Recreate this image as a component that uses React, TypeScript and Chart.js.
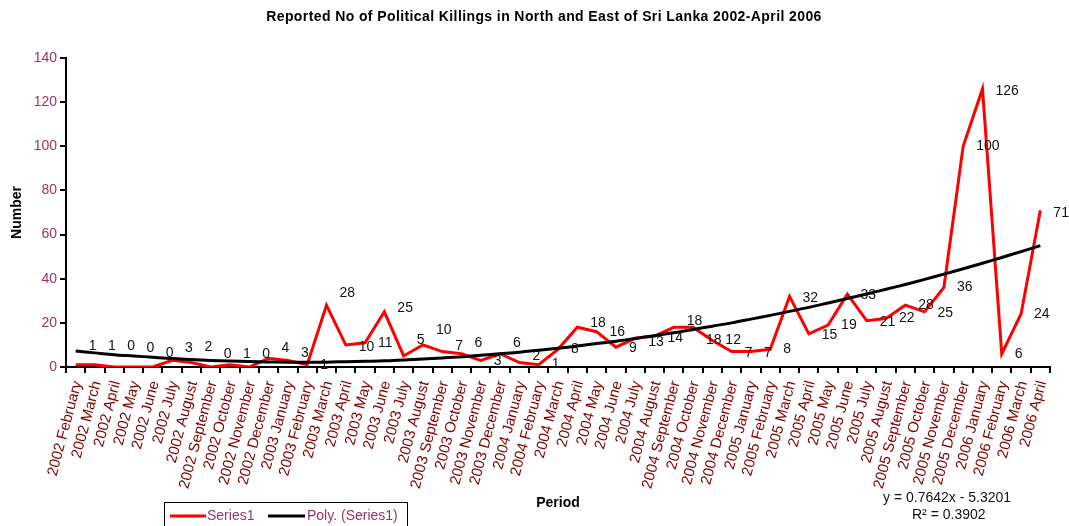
import React, { useEffect, useRef } from 'react';
import { Chart, registerables } from 'chart.js';

Chart.register(...registerables);

const categories = [
  '2002 February', '2002 March', '2002 April', '2002 May', '2002 June', '2002 July',
  '2002 August', '2002 September', '2002 October', '2002 November', '2002 December',
  '2003 January', '2003 February', '2003 March', '2003 April', '2003 May', '2003 June',
  '2003 July', '2003 August', '2003 September', '2003 October', '2003 November', '2003 December',
  '2004 January', '2004 February', '2004 March', '2004 April', '2004 May', '2004 June',
  '2004 July', '2004 August', '2004 September', '2004 October', '2004 November', '2004 December',
  '2005 January', '2005 February', '2005 March', '2005 April', '2005 May', '2005 June',
  '2005 July', '2005 August', '2005 September', '2005 October', '2005 November', '2005 December',
  '2006 January', '2006 February', '2006 March', '2006 April',
];

const killings = [
  1, 1, 0, 0, 0, 3, 2, 0, 1, 0,
  4, 3, 1, 28, 10, 11, 25, 5, 10, 7,
  6, 3, 6, 2, 1, 8, 18, 16, 9, 13,
  14, 18, 18, 12, 7, 7, 8, 32, 15, 19,
  33, 21, 22, 28, 25, 36, 100, 126, 6, 24,
  71,
];

// Poly. (Series1) trendline values
const trendValues = [
  7.2, 6.4, 5.6, 5.0, 4.4, 3.8, 3.4, 3.0, 2.7, 2.5,
  2.3, 2.2, 2.2, 2.2, 2.4, 2.6, 2.8, 3.2, 3.6, 4.1,
  4.6, 5.3, 6.0, 6.7, 7.6, 8.5, 9.5, 10.6, 11.7, 12.9,
  14.2, 15.5, 17.0, 18.5, 20.0, 21.7, 23.4, 25.2, 27.0, 29.0,
  31.0, 33.1, 35.2, 37.4, 39.7, 42.1, 44.5, 47.0, 49.6, 52.3,
  55.0,
];

const yMin = 0;
const yMax = 140;
const yStep = 20;

const chartTitle = 'Reported No of Political Killings in North and East of Sri Lanka 2002-April 2006';
const yTitle = 'Number';
const xTitle = 'Period';
const seriesName = 'Series1';
const trendName = 'Poly. (Series1)';
const equationLines = ['y = 0.7642x - 5.3201', 'R² = 0.3902'];

// vertical nudges (px) of the data labels, as placed in the original
const labelNudge = [
  -19, -19, -21, -19, -14, -12, -15, -13, -11, -13,
  -10, -7, 0, -12, 2, 0, -4, -16, -15, -5,
  -11, 1, -11, -6, -1, 0, -4, 0, 1, 4,
  2, -6, 13, 0, 2, 2, 0, 2, 1, 0,
  1, 1, 0, 0, 1, 0, 0, 2, 0, 0,
  3,
];

const FONT = 'Arial, "Liberation Sans", sans-serif';
const W = 1069;
const H = 526;

const overlayPlugin = {
  id: 'overlay',
  afterDatasetsDraw(chart: any) {
    const ctx = chart.ctx;
    const meta = chart.getDatasetMeta(0);
    ctx.save();
    ctx.font = `14px ${FONT}`;
    ctx.fillStyle = '#111111';
    ctx.textAlign = 'left';
    ctx.textBaseline = 'middle';
    meta.data.forEach((pt: any, i: number) => {
      ctx.fillText(String(killings[i]), pt.x + 13, pt.y + (labelNudge[i] || 0));
    });
    ctx.restore();
  },
  afterDraw(chart: any) {
    const ctx = chart.ctx;
    ctx.save();
    // title
    ctx.font = `bold 14px ${FONT}`;
    ctx.fillStyle = '#000';
    ctx.textAlign = 'center';
    ctx.textBaseline = 'middle';
    try { (ctx as any).letterSpacing = '0.4px'; } catch (e) { /* ignore */ }
    ctx.fillText(chartTitle, 544, 17);
    try { (ctx as any).letterSpacing = '0px'; } catch (e) { /* ignore */ }

    // legend box
    ctx.strokeStyle = '#000';
    ctx.lineWidth = 1;
    ctx.strokeRect(164.5, 502.5, 243, 40);
    ctx.lineWidth = 3;
    ctx.strokeStyle = '#FF0000';
    ctx.beginPath();
    ctx.moveTo(170, 516);
    ctx.lineTo(206, 516);
    ctx.stroke();
    ctx.strokeStyle = '#000';
    ctx.beginPath();
    ctx.moveTo(268, 516);
    ctx.lineTo(305, 516);
    ctx.stroke();
    ctx.font = `14px ${FONT}`;
    ctx.fillStyle = '#993366';
    ctx.textAlign = 'left';
    ctx.fillText(seriesName, 207, 516);
    ctx.fillText(trendName, 307, 516);

    // trendline equation
    ctx.fillStyle = '#111111';
    ctx.fillText(equationLines[0], 883, 498);
    ctx.fillText(equationLines[1], 912, 515);
    ctx.restore();
  },
};

export default function App() {
  const ref = useRef<HTMLCanvasElement | null>(null);

  useEffect(() => {
    document.body.style.margin = '0';
    const canvas = ref.current;
    if (!canvas) return;
    const chart = new Chart(canvas, {
      type: 'line',
      data: {
        labels: categories,
        datasets: [
          {
            label: seriesName,
            data: killings,
            borderColor: '#FF0000',
            backgroundColor: '#FF0000',
            borderWidth: 3,
            pointRadius: 0,
            tension: 0,
            order: 1,
          },
          {
            label: trendName,
            data: trendValues,
            borderColor: '#000000',
            backgroundColor: '#000000',
            borderWidth: 3,
            pointRadius: 0,
            tension: 0.3,
            order: 0,
          },
        ],
      },
      options: {
        animation: false,
        responsive: false,
        devicePixelRatio: 1,
        layout: { padding: { top: 58, left: 0, right: 19, bottom: 0 } },
        plugins: {
          legend: { display: false },
          title: { display: false },
          tooltip: { enabled: false },
        },
        scales: {
          x: {
            type: 'category',
            offset: true,
            grid: {
              offset: true,
              drawOnChartArea: false,
              drawTicks: true,
              tickLength: 6,
              color: '#000',
              lineWidth: 2,
            },
            border: { display: true, color: '#000', width: 2 },
            ticks: {
              autoSkip: false,
              minRotation: 75,
              maxRotation: 75,
              padding: 6,
              labelOffset: 2,
              color: '#800000',
              font: { family: FONT, size: 15 },
            },
            title: {
              display: true,
              text: xTitle,
              color: '#000',
              font: { family: FONT, size: 14, weight: 'bold' },
              padding: { top: 0, bottom: 14 },
            },
            afterFit(scale: any) {
              scale.height = 159;
            },
          },
          y: {
            min: yMin,
            max: yMax,
            ticks: {
              stepSize: yStep,
              color: '#993366',
              padding: 3,
              font: { family: FONT, size: 14 },
            },
            grid: {
              drawOnChartArea: false,
              drawTicks: true,
              tickLength: 6,
              color: '#000',
              lineWidth: 2,
            },
            border: { display: true, color: '#000', width: 2 },
            title: {
              display: true,
              text: yTitle,
              color: '#000',
              font: { family: FONT, size: 14, weight: 'bold' },
              padding: { top: 9, bottom: 0 },
            },
            afterFit(scale: any) {
              scale.width = 66;
            },
          },
        },
      },
      plugins: [overlayPlugin],
    } as any);
    return () => chart.destroy();
  }, []);

  return <canvas ref={ref} width={W} height={H} style={{ display: 'block' }} />;
}
